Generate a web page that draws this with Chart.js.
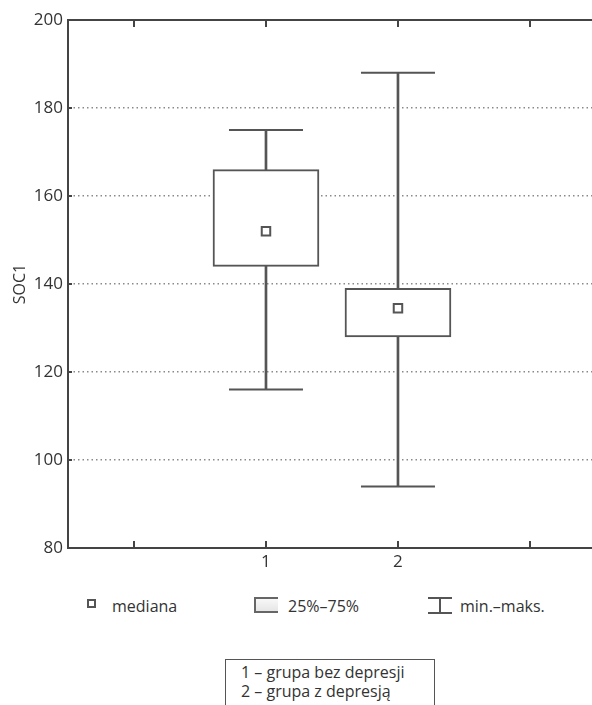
<!DOCTYPE html>
<html>
<head>
<meta charset="utf-8">
<script src="https://cdn.jsdelivr.net/npm/chart.js@4.4.1/dist/chart.umd.min.js"></script>
<style>
  body { margin: 0; width: 592px; height: 705px; background: #fff; overflow: hidden; position: relative;
         font-family: "Open Sans", sans-serif; color: #333; }
  #wrap { position: absolute; left: 0; top: 0; width: 592px; height: 580px; }
  .lg { position: absolute; font-size: 16px; line-height: 20px; white-space: nowrap; }
  .ico { position: absolute; box-sizing: border-box; }
  #groups { position: absolute; left: 225px; top: 659px; width: 210px; height: 60px; box-sizing: border-box;
            border: 1.5px solid #555; border-bottom: none; padding: 3px 0 0 15px; font-size: 16px; line-height: 19px; }
</style>
</head>
<body>
<div id="wrap"><canvas id="soc" width="592" height="580"></canvas></div>

<!-- legend row -->
<div class="ico" style="left:87px; top:599px; width:9px; height:9px; border:2px solid #555; background:#fff;"></div>
<div class="lg" style="left:112px; top:596px;">mediana</div>
<div class="ico" style="left:254px; top:597px; width:24px; height:16px; border:2px solid #666; border-right:none;
     background:linear-gradient(#f8f8f8,#e6e6e6);"></div>
<div class="lg" style="left:288px; top:596px;">25%–75%</div>
<div class="ico" style="left:428px; top:597px; width:24px; height:2px; background:#555;"></div>
<div class="ico" style="left:439px; top:597px; width:2px; height:17px; background:#555;"></div>
<div class="ico" style="left:428px; top:612px; width:24px; height:2px; background:#555;"></div>
<div class="lg" style="left:460px; top:596px;">min.–maks.</div>

<div id="groups">1 – grupa bez depresji<br>2 – grupa z depresją</div>

<script>
const categories = ['1', '2'];
const minVals = [116, 94];
const q1Vals = [144, 128];
const medianVals = [152, 134.5];
const q3Vals = [166, 139];
const maxVals = [175, 188];
const yTicks = [80, 100, 120, 140, 160, 180, 200];
const xTicks = [0, 1, 2, 3];

const lineCol = '#555';
const xs = categories.map((c, i) => i + 1);

// inward ticks on the frame and the closing top line
const frame = {
  id: 'frame',
  beforeDatasetsDraw(chart) {
    const { ctx, chartArea: a, scales: { x, y } } = chart;
    ctx.save();
    ctx.strokeStyle = '#444';
    ctx.lineWidth = 2;
    ctx.beginPath();
    ctx.moveTo(a.left, a.top);
    ctx.lineTo(a.right, a.top);
    xTicks.forEach(v => {
      const px = Math.round(x.getPixelForValue(v));
      ctx.moveTo(px, a.top);
      ctx.lineTo(px, a.top + 7);
      ctx.moveTo(px, a.bottom);
      ctx.lineTo(px, a.bottom - 7);
    });
    yTicks.slice(1, -1).forEach(v => {
      const py = Math.round(y.getPixelForValue(v));
      ctx.moveTo(a.left, py);
      ctx.lineTo(a.left + 4, py);
    });
    ctx.stroke();
    ctx.restore();
  }
};

new Chart(document.getElementById('soc'), {
  type: 'bar',
  data: {
    datasets: [
      {
        // whisker stems
        data: xs.map((v, i) => ({ x: v, y: [minVals[i], maxVals[i]] })),
        backgroundColor: lineCol,
        barThickness: 2,
        grouped: false,
        order: 3
      },
      {
        // interquartile boxes
        data: xs.map((v, i) => ({ x: v, y: [q1Vals[i], q3Vals[i]] })),
        backgroundColor: '#fff',
        borderColor: lineCol,
        borderWidth: 2,
        borderSkipped: false,
        barThickness: 106,
        grouped: false,
        order: 1
      },
      {
        // whisker caps
        type: 'line',
        showLine: false,
        data: xs.flatMap((v, i) => [{ x: v, y: minVals[i] }, { x: v, y: maxVals[i] }]),
        pointStyle: 'line',
        pointRadius: 37,
        pointHoverRadius: 37,
        borderColor: lineCol,
        borderWidth: 2,
        order: 2
      },
      {
        // medians
        type: 'line',
        showLine: false,
        data: xs.map((v, i) => ({ x: v, y: medianVals[i] })),
        pointStyle: 'rect',
        pointRadius: 6,
        pointHoverRadius: 6,
        backgroundColor: '#fff',
        borderColor: lineCol,
        borderWidth: 2,
        order: 0
      }
    ]
  },
  options: {
    responsive: false,
    animation: false,
    events: [],
    layout: { autoPadding: false, padding: { top: 20, right: 0, left: 0, bottom: 0 } },
    plugins: { legend: { display: false }, tooltip: { enabled: false } },
    scales: {
      x: {
        type: 'linear',
        min: -0.5,
        max: 3.47,
        offset: false,
        afterBuildTicks: s => { s.ticks = xTicks.map(v => ({ value: v })); },
        afterFit: s => { s.height = 32; s.paddingLeft = 0; s.paddingRight = 0; },
        ticks: {
          callback: v => (categories.includes(String(v)) ? String(v) : ''),
          font: { family: 'Open Sans', size: 17 },
          color: '#333',
          padding: 4,
          maxRotation: 0
        },
        grid: { display: false, drawTicks: false },
        border: { display: true, color: '#444', width: 2 }
      },
      y: {
        min: 80,
        max: 200,
        afterBuildTicks: s => { s.ticks = yTicks.map(v => ({ value: v })); },
        afterFit: s => { s.width = 68; s.paddingTop = 0; s.paddingBottom = 0; },
        ticks: {
          font: { family: 'Open Sans', size: 17 },
          color: '#333',
          padding: 5
        },
        grid: {
          drawTicks: false,
          lineWidth: 1.5,
          color: c => (c.tick && (c.tick.value === 80 || c.tick.value === 200)) ? 'rgba(0,0,0,0)' : '#8a8a8a'
        },
        border: { display: true, color: '#444', width: 2, dash: [1.5, 3] },
        title: {
          display: true,
          text: 'SOC1',
          font: { family: 'Open Sans', size: 16 },
          color: '#333',
          padding: { top: 11, bottom: 0 }
        }
      }
    }
  },
  plugins: [frame]
});
</script>
</body>
</html>
